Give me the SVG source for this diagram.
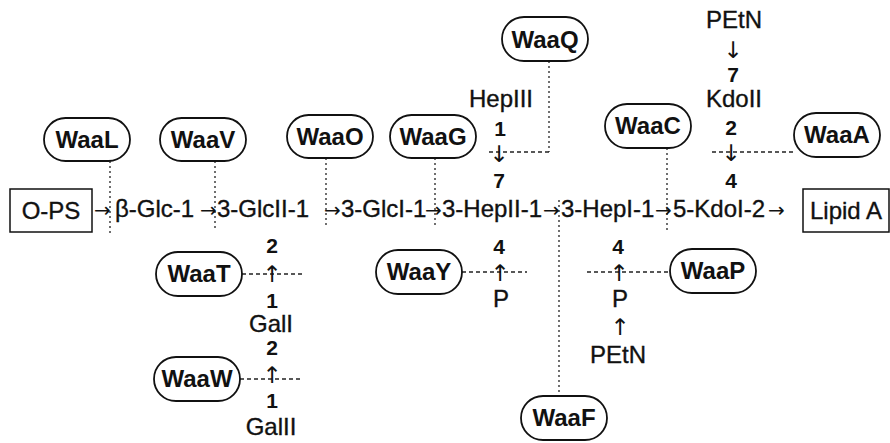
<svg xmlns="http://www.w3.org/2000/svg" width="890" height="443" viewBox="0 0 890 443">
<style>
.pill{fill:#fff;stroke:#111;stroke-width:1.8}
.pt{font-family:'Liberation Sans',Arial,sans-serif;font-weight:bold;font-size:24px;text-anchor:middle;fill:#111}
.lbl{font-family:'Liberation Sans',Arial,sans-serif;font-size:24px;fill:#111;stroke:#111;stroke-width:0.35}
.c{text-anchor:middle}
.num{font-family:'Liberation Sans',Arial,sans-serif;font-weight:bold;font-size:21px;text-anchor:middle;fill:#111}
.arr{font-family:'DejaVu Sans',sans-serif;font-size:23px;text-anchor:middle;fill:#111}
.ha{font-family:'DejaVu Sans',sans-serif;font-size:20px;stroke-width:0}
.dot{stroke:#222;stroke-width:1.3;stroke-dasharray:2 3;fill:none}
.dash{stroke:#222;stroke-width:1.3;stroke-dasharray:4 3;fill:none}
.box{fill:#fff;stroke:#111;stroke-width:1.5}
</style>
<rect width="890" height="443" fill="#fff"/>
<g id="connectors">
<line class="dot" x1="110" y1="161" x2="110" y2="233"/>
<line class="dot" x1="215" y1="161" x2="215" y2="228"/>
<line class="dot" x1="326" y1="158" x2="326" y2="228"/>
<line class="dot" x1="435" y1="158" x2="435" y2="228"/>
<polyline class="dot" points="549,61 549,152"/>
<line class="dash" x1="549" y1="152" x2="488" y2="152"/>
<line class="dot" x1="667" y1="148" x2="667" y2="232"/>
<line class="dash" x1="712" y1="152" x2="794" y2="152"/>
<line class="dot" x1="559" y1="200" x2="559" y2="396"/>
<line class="dash" x1="242" y1="274" x2="303" y2="274"/>
<line class="dash" x1="240" y1="379" x2="303" y2="379"/>
<line class="dash" x1="462" y1="272" x2="527" y2="272"/>
<line class="dash" x1="587" y1="272" x2="670" y2="272"/>
</g>
<g id="O-PS"><rect class="box" x="10" y="189" width="82" height="43"/><text class="lbl c" x="51" y="219">O-PS</text></g>
<g id="LipidA"><rect class="box" x="803" y="189" width="86" height="43"/><text class="lbl c" x="846" y="219">Lipid A</text></g>
<g id="mainchain">
<text class="lbl" y="217"><tspan class="ha" x="94">→</tspan><tspan x="115">β-Glc-1</tspan><tspan class="ha" x="200">→</tspan><tspan x="217">3-GlcII-1</tspan><tspan class="ha" x="324">→</tspan><tspan x="341">3-GlcI-1</tspan><tspan class="ha" x="425">→</tspan><tspan x="442">3-HepII-1</tspan><tspan class="ha" x="543">→</tspan><tspan x="561">3-HepI-1</tspan><tspan class="ha" x="655">→</tspan><tspan x="673">5-KdoI-2</tspan><tspan class="ha" x="768">→</tspan></text>
</g>
<g id="WaaQ"><rect class="pill" x="502" y="17" width="86" height="44" rx="22"/><text class="pt" x="545" y="48">WaaQ</text></g>
<g id="WaaL"><rect class="pill" x="44" y="118" width="86" height="43" rx="21.5"/><text class="pt" x="87" y="148">WaaL</text></g>
<g id="WaaV"><rect class="pill" x="160" y="118" width="86" height="43" rx="21.5"/><text class="pt" x="203" y="148">WaaV</text></g>
<g id="WaaO"><rect class="pill" x="287" y="115" width="86" height="43" rx="21.5"/><text class="pt" x="330" y="145">WaaO</text></g>
<g id="WaaG"><rect class="pill" x="390" y="115" width="86" height="43" rx="21.5"/><text class="pt" x="433" y="145">WaaG</text></g>
<g id="WaaC"><rect class="pill" x="605" y="104" width="86" height="44" rx="22"/><text class="pt" x="648" y="134">WaaC</text></g>
<g id="WaaA"><rect class="pill" x="794" y="113" width="86" height="44" rx="22"/><text class="pt" x="837" y="143">WaaA</text></g>
<g id="WaaT"><rect class="pill" x="156" y="252" width="86" height="44" rx="22"/><text class="pt" x="199" y="282">WaaT</text></g>
<g id="WaaY"><rect class="pill" x="376" y="250" width="86" height="44" rx="22"/><text class="pt" x="419" y="280">WaaY</text></g>
<g id="WaaP"><rect class="pill" x="670" y="249" width="86" height="44" rx="22"/><text class="pt" x="713" y="279">WaaP</text></g>
<g id="WaaW"><rect class="pill" x="154" y="357" width="86" height="44" rx="22"/><text class="pt" x="197" y="387">WaaW</text></g>
<g id="WaaF"><rect class="pill" x="521" y="396" width="86" height="44" rx="22"/><text class="pt" x="564" y="426">WaaF</text></g>
<g id="HepIII">
<text class="lbl c" x="501" y="107">HepIII</text>
<text class="num" x="500" y="136">1</text>
<text class="arr" x="499" y="162">↓</text>
<text class="num" x="499" y="188">7</text>
</g>
<g id="KdoII">
<text class="lbl c" x="734" y="28">PEtN</text>
<text class="arr" x="733" y="58">↓</text>
<text class="num" x="733" y="82">7</text>
<text class="lbl c" x="734" y="107">KdoII</text>
<text class="num" x="731" y="135">2</text>
<text class="arr" x="731" y="161">↓</text>
<text class="num" x="731" y="188">4</text>
</g>
<g id="HepII-P">
<text class="num" x="499" y="254">4</text>
<text class="arr" x="500" y="281">↑</text>
<text class="lbl c" x="501" y="307">P</text>
</g>
<g id="HepI-P">
<text class="num" x="618" y="254">4</text>
<text class="arr" x="619" y="281">↑</text>
<text class="lbl c" x="620" y="307">P</text>
<text class="arr" x="620" y="335">↑</text>
<text class="lbl c" x="618" y="363">PEtN</text>
</g>
<g id="Gal">
<text class="num" x="272" y="253">2</text>
<text class="arr" x="272" y="282">↑</text>
<text class="num" x="272" y="308">1</text>
<text class="lbl c" x="271" y="332">GalI</text>
<text class="num" x="272" y="355">2</text>
<text class="arr" x="272" y="383">↑</text>
<text class="num" x="272" y="408">1</text>
<text class="lbl c" x="271" y="435">GalII</text>
</g>
</svg>
